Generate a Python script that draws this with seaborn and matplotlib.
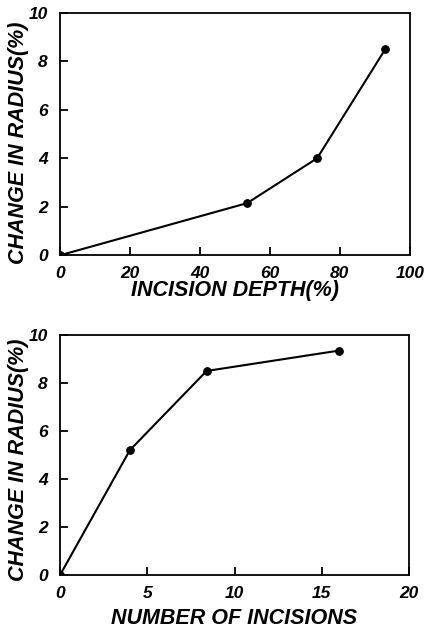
import matplotlib
matplotlib.use("Agg")
import matplotlib.pyplot as plt
import seaborn as sns

# incision depth experiment
depth_pct = [0, 53.5, 73.5, 93]
depth_change = [0, 2.15, 4.0, 8.5]

# number of incisions experiment
n_incisions = [0, 4, 8.4, 16]
n_change = [0, 5.2, 8.5, 9.35]

sns.set_style("ticks")
plt.rcParams['font.family'] = ['Liberation Sans', 'DejaVu Sans']

fig = plt.figure(figsize=(4.26, 6.35), dpi=100)
ax1 = fig.add_axes([0.141, 0.598, 0.821, 0.382])
ax2 = fig.add_axes([0.141, 0.0945, 0.819, 0.378])

lab = dict(fontsize=15.5, fontweight='bold', fontstyle='italic', color='black')

def style(ax):
    for s in ax.spines.values():
        s.set_linewidth(1.3)
        s.set_color('black')
    ax.tick_params(direction='in', length=6, width=1.3, colors='black', labelsize=12.5)
    ax.tick_params(axis='y', pad=9)
    ax.tick_params(axis='x', pad=8)
    for t in ax.get_xticklabels() + ax.get_yticklabels():
        t.set_fontweight('bold')
        t.set_fontstyle('italic')

sns.lineplot(x=depth_pct, y=depth_change, ax=ax1, color='black', marker='o',
             markersize=5.5, linewidth=1.5, markeredgecolor='black')
ax1.set_xlim(0, 100)
ax1.set_ylim(0, 10)
ax1.set_xticks([0, 20, 40, 60, 80, 100])
ax1.set_yticks([0, 2, 4, 6, 8, 10])
ax1.set_xlabel("INCISION DEPTH(%)", labelpad=-1, **lab)
ax1.set_ylabel("CHANGE IN RADIUS(%)", **lab)
ax1.yaxis.set_label_coords(-0.09, 0.465)
style(ax1)

sns.lineplot(x=n_incisions, y=n_change, ax=ax2, color='black', marker='o',
             markersize=5.5, linewidth=1.5, markeredgecolor='black')
ax2.set_xlim(0, 20)
ax2.set_ylim(0, 10)
ax2.set_xticks([0, 5, 10, 15, 20])
ax2.set_yticks([0, 2, 4, 6, 8, 10])
ax2.set_xlabel("NUMBER OF INCISIONS", labelpad=5, **lab)
ax2.set_ylabel("CHANGE IN RADIUS(%)", **lab)
ax2.yaxis.set_label_coords(-0.09, 0.48)
style(ax2)

fig.savefig("out.png", dpi=100)
